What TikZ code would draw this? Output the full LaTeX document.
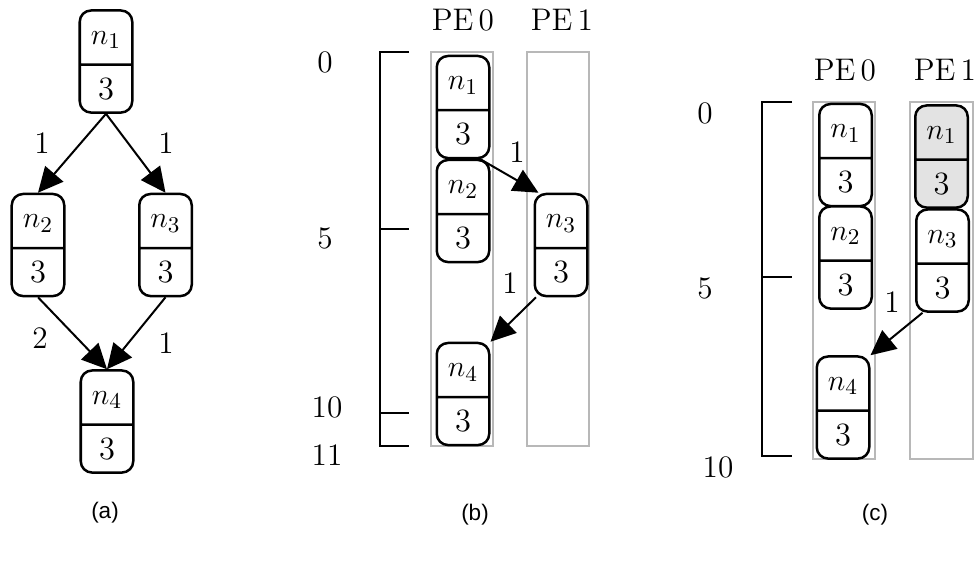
\documentclass[tikz,border=0pt]{standalone}
\usepackage{fontspec}
\newfontfamily\capfont{Liberation Sans}
\usetikzlibrary{shapes.multipart,arrows.meta,calc}
\tikzset{task/.style={rectangle split, rectangle split parts=2, draw, fill=white, line width=1pt, rounded corners=4.5pt, text width=13pt, align=center, inner xsep=4pt, inner ysep=4.6pt, text height=8.5pt, text depth=3pt, font=\fontsize{13}{15}\selectfont},
  dep/.style={line width=0.8pt, -{Triangle[length=10pt,width=9.5pt]}},
  pe/.style={draw=black!28, line width=0.7pt},
  axis/.style={line width=0.9pt},
  lbl/.style={font=\fontsize{12.5}{14}\selectfont},
  subcap/.style={font=\capfont\fontsize{9}{11}\selectfont}}

\begin{document}
\begin{tikzpicture}[x=0.4pt,y=-0.4pt]
    \useasboundingbox (0,0) rectangle (975,583);
    % (a) task graph
    \node[task] (a1) at (106,61.5) {$n_1$\nodepart{second}3};
    \node[task] (a2) at (38,245) {$n_2$\nodepart{second}3};
    \node[task] (a3) at (165.5,245) {$n_3$\nodepart{second}3};
    \node[task] (a4) at (107,421.5) {$n_4$\nodepart{second}3};
    \draw[dep] (a1.south) -- (a2.north);
    \draw[dep] (a1.south) -- (a3.north);
    \draw[dep] (a2.south) -- (a4.north);
    \draw[dep] (a3.south) -- (a4.north);
    \node[lbl] (wa12) at (42,143) {1};
    \node[lbl] (wa13) at (166,143) {1};
    \node[lbl] (wa24) at (40,338) {2};
    \node[lbl] (wa34) at (166,343) {1};
    \node[subcap] (capa) at (105,513) {(a)};

    % (b) schedule without duplication
    \draw[axis] (409,52) -- (380,52) -- (380,446) -- (409,446);
    \draw[axis] (380,229) -- (409,229);
    \draw[axis] (380,413) -- (409,413);
    \node[lbl] (tb0) at (325,62) {0};
    \node[lbl] (tb5) at (325,238) {5};
    \node[lbl] (tb10) at (327,407) {10};
    \node[lbl] (tb11) at (327,455) {11};
    \draw[pe] (431,52) rectangle (493,446);
    \draw[pe] (527,52) rectangle (589,446);
    \node[lbl] (peb0) at (463,20) {PE\,0};
    \node[lbl] (peb1) at (562,20) {PE\,1};
    \node[task] (b1) at (463,107) {$n_1$\nodepart{second}3};
    \node[task] (b2) at (463,211) {$n_2$\nodepart{second}3};
    \node[task] (b3) at (561,245) {$n_3$\nodepart{second}3};
    \node[task] (b4) at (463,394) {$n_4$\nodepart{second}3};
    \draw[dep] ([xshift=-4pt]b1.south east) -- ([xshift=2pt]b3.north west);
    \draw[dep] ([xshift=1pt]b3.south west) -- (b4.north east);
    \node[lbl] (wb13) at (517,152) {1};
    \node[lbl] (wb34) at (510,283) {1};
    \node[subcap] (capb) at (475,515) {(b)};

    % (c) schedule with duplication
    \draw[axis] (792,102) -- (762,102) -- (762,456) -- (792,456);
    \draw[axis] (762,277) -- (792,277);
    \node[lbl] (tc0) at (705,113) {0};
    \node[lbl] (tc5) at (705,288) {5};
    \node[lbl] (tc10) at (718,467) {10};
    \draw[pe] (813,102) rectangle (875,459);
    \draw[pe] (910,102) rectangle (973,459);
    \node[lbl] (pec0) at (845,70) {PE\,0};
    \node[lbl] (pec1) at (945,70) {PE\,1};
    \node[task] (c1) at (845.5,155) {$n_1$\nodepart{second}3};
    \node[task] (c2) at (845.5,257.5) {$n_2$\nodepart{second}3};
    \node[task] (c4) at (843,407.5) {$n_4$\nodepart{second}3};
    \node[task,fill=black!11] (c1d) at (941.5,156.5) {$n_1$\nodepart{second}3};
    \node[task] (c3) at (942.5,260.5) {$n_3$\nodepart{second}3};
    \draw[dep] ([xshift=3pt]c3.south west) -- (c4.north east);
    \node[lbl] (wc34) at (892,302) {1};
    \node[subcap] (capc) at (875,515) {(c)};
\end{tikzpicture}
\end{document}
